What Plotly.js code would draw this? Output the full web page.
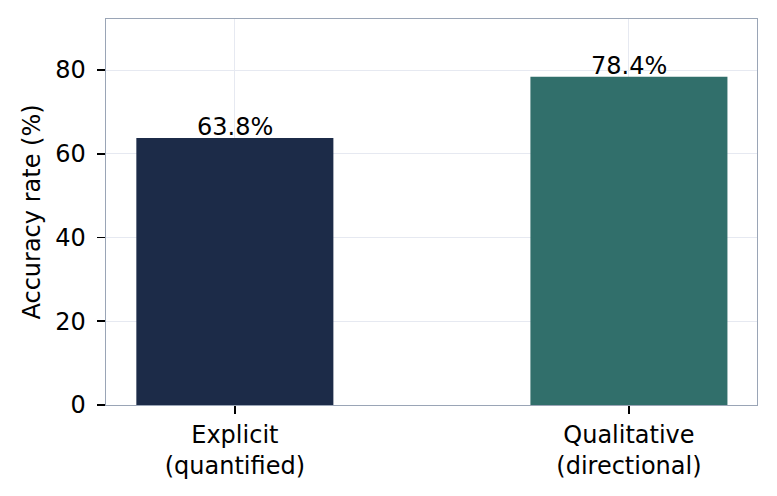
<!DOCTYPE html>
<html>
<head>
<meta charset="utf-8">
<script src="https://cdn.plot.ly/plotly-3.0.1.min.js"></script>
<style>html,body{margin:0;padding:0;background:#fff;}#chart{width:777px;height:496px;}</style>
</head>
<body>
<div id="chart"></div>
<script>
const categories = ["Explicit<br>(quantified)", "Qualitative<br>(directional)"];
const accuracy = [63.8, 78.4];
const labels = ["63.8%", "78.4%"];
const barColors = ["#1c2b48", "#316f6b"];
const yTicks = [0, 20, 40, 60, 80];

const font = "DejaVu Sans, sans-serif";
const fs = 24;

const annotations = categories.map((c, i) => ({
  x: c, y: accuracy[i], xref: "x", yref: "y",
  text: labels[i], showarrow: false,
  xanchor: "center", yanchor: "bottom", yshift: -5,
  font: {family: font, size: fs, color: "#000"}
}));

Plotly.newPlot("chart", [{
  type: "bar",
  x: categories,
  y: accuracy,
  marker: {color: barColors, line: {width: 0}},
  width: 0.5,
  hoverinfo: "none"
}], {
  width: 777, height: 496,
  margin: {l: 106, r: 20, t: 19, b: 91},
  paper_bgcolor: "#fff", plot_bgcolor: "#fff",
  font: {family: font, size: fs, color: "#000"},
  showlegend: false,
  annotations: annotations,
  xaxis: {
    type: "category",
    range: [-0.327, 1.325],
    showgrid: true, gridcolor: "#e6e9f1", gridwidth: 1,
    showline: true, linecolor: "#9aa5b6", linewidth: 1.4, mirror: true,
    ticks: "outside", ticklen: 8, tickwidth: 1.6, tickcolor: "#000",
    tickfont: {family: font, size: fs, color: "#000"},
    zeroline: false
  },
  yaxis: {
    range: [0, 92.2],
    tickvals: yTicks,
    ticktext: yTicks.map(String),
    showgrid: true, gridcolor: "#e6e9f1", gridwidth: 1,
    showline: true, linecolor: "#9aa5b6", linewidth: 1.4, mirror: true,
    ticks: "outside", ticklen: 8, tickwidth: 1.6, tickcolor: "#000",
    ticklabelstandoff: 6,
    tickfont: {family: font, size: fs, color: "#000"},
    zeroline: false,
    title: {text: "Accuracy rate (%)", font: {family: font, size: fs, color: "#000"}, standoff: 8}
  }
}, {staticPlot: true, displayModeBar: false});
</script>
</body>
</html>
